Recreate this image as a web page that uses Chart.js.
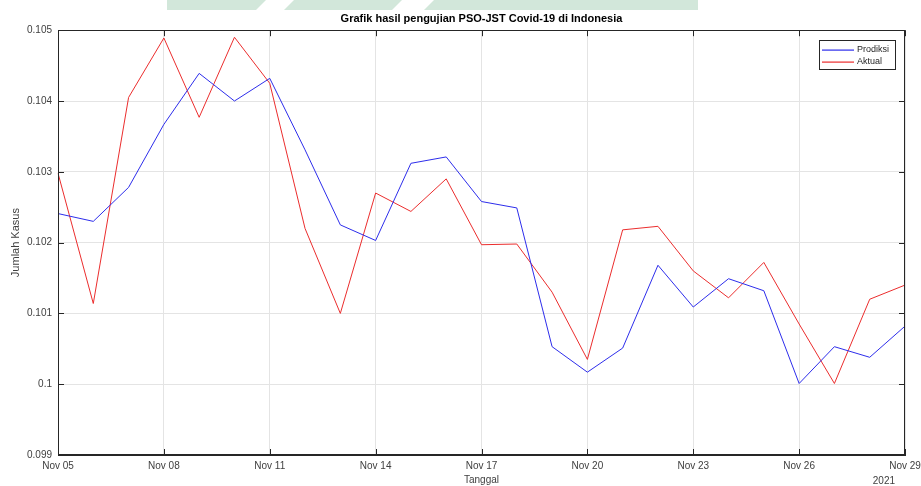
<!DOCTYPE html>
<html>
<head>
<meta charset="utf-8">
<script src="https://cdn.jsdelivr.net/npm/chart.js@4/dist/chart.umd.min.js"></script>
<style>
    html, body { margin: 0; padding: 0; background: #fff; }
</style>
</head>
<body>
<canvas id="grafik" width="921" height="486"></canvas>
<script>

    // Data

    var tanggal = [
        'Nov 05', 'Nov 06', 'Nov 07', 'Nov 08', 'Nov 09', 'Nov 10', 'Nov 11',
        'Nov 12', 'Nov 13', 'Nov 14', 'Nov 15', 'Nov 16', 'Nov 17', 'Nov 18',
        'Nov 19', 'Nov 20', 'Nov 21', 'Nov 22', 'Nov 23', 'Nov 24', 'Nov 25',
        'Nov 26', 'Nov 27', 'Nov 28', 'Nov 29'
    ];

    var prediksi = [
        0.10241, 0.10230, 0.10278, 0.10367, 0.10439, 0.10400, 0.10432,
        0.10331, 0.10225, 0.10203, 0.10312, 0.10321, 0.10258, 0.10249,
        0.10053, 0.10017, 0.10051, 0.10168, 0.10109, 0.10149, 0.10132,
        0.10001, 0.10053, 0.10038, 0.10082
    ];

    var aktual = [
        0.10298, 0.10114, 0.10405, 0.10489, 0.10377, 0.10490, 0.10425,
        0.10220, 0.10100, 0.10270, 0.10244, 0.10290, 0.10197, 0.10198,
        0.10130, 0.10035, 0.10218, 0.10223, 0.10160, 0.10122, 0.10172,
        0.10085, 0.10001, 0.10120, 0.10140
    ];

    var yMin = 0.099;
    var yMax = 0.105;
    var yStep = 0.001;
    var tahun = '2021';


    // Styles

    var FONT = '"Liberation Sans", Arial, Helvetica, sans-serif';
    var AXIS = '#262626';
    var GRID = '#e4e4e4';
    var BIRU = '#2d2deb';
    var MERAH = '#eb2d2d';
    var warna = [BIRU, MERAH];

    function isMajor(i) {
        return i % 3 === 0;
    }

    var bingkai = {
        id: 'bingkai',
        beforeDraw: function (chart) {
            var c = chart.ctx;
            c.save();
            c.fillStyle = '#fff';
            c.fillRect(0, 0, chart.width, chart.height);
            // faded watermark band at top
            c.fillStyle = '#d2e7da';
            var parts = [[167, 266], [284, 402], [424, 698]];
            parts.forEach(function (p) {
                c.beginPath();
                c.moveTo(p[0] + (p[0] === 167 ? 0 : 10), 0);
                c.lineTo(p[1], 0);
                c.lineTo(p[1] - (p[1] === 698 ? 0 : 10), 10);
                c.lineTo(p[0], 10);
                c.closePath();
                c.fill();
            });
            c.restore();
        },
        afterDraw: function (chart) {
            var c = chart.ctx;
            var a = chart.chartArea;
            var xs = chart.scales.x;
            var ys = chart.scales.y;
            c.save();

            // box
            c.strokeStyle = AXIS;
            c.lineWidth = 1;
            c.strokeRect(Math.round(a.left) + 0.5, Math.round(a.top) + 0.5,
                Math.round(a.right - a.left) - 1, Math.round(a.bottom - a.top) - 1);

            // inward ticks
            c.beginPath();
            xs.ticks.forEach(function (t, i) {
                if (!isMajor(i)) return;
                var x = Math.round(xs.getPixelForTick(i)) + 0.5;
                c.moveTo(x, a.bottom); c.lineTo(x, a.bottom - 6);
                c.moveTo(x, a.top); c.lineTo(x, a.top + 6);
            });
            ys.ticks.forEach(function (t, i) {
                var y = Math.round(ys.getPixelForTick(i)) + 0.5;
                c.moveTo(a.left, y); c.lineTo(a.left + 6, y);
                c.moveTo(a.right, y); c.lineTo(a.right - 6, y);
            });
            c.stroke();

            // legend
            var lx = 819, ly = 40, lw = 76, lh = 29;
            c.fillStyle = '#fff';
            c.fillRect(lx, ly, lw, lh);
            c.strokeStyle = AXIS;
            c.strokeRect(lx + 0.5, ly + 0.5, lw, lh);
            c.font = '9px ' + FONT;
            c.textBaseline = 'middle';
            c.textAlign = 'left';
            chart.data.datasets.forEach(function (ds, i) {
                var y = ly + 10 + i * 12;
                c.fillStyle = warna[i];
                c.fillRect(lx + 3, y - 0.5, 32, 1.2);
                c.fillStyle = AXIS;
                c.fillText(ds.label, lx + 38, y);
            });

            // year under the last date
            c.font = '10px ' + FONT;
            c.fillStyle = '#404040';
            c.textAlign = 'right';
            c.fillText(tahun, a.right - 10, 481);
            c.restore();
        }
    };


    // Chart

    var grafik = new Chart(document.getElementById('grafik'), {
        type: 'line',
        data: {
            labels: tanggal,
            datasets: [{
                label: 'Prodiksi',
                data: prediksi,
                borderColor: BIRU,
                borderWidth: 1,
                pointRadius: 0,
                tension: 0
            }, {
                label: 'Aktual',
                data: aktual,
                borderColor: MERAH,
                borderWidth: 1,
                pointRadius: 0,
                tension: 0
            }]
        },
        options: {
            responsive: false,
            animation: false,
            devicePixelRatio: 1,
            layout: {
                padding: { left: 0, right: 16, top: 0, bottom: 0 }
            },
            plugins: {
                legend: { display: false },
                tooltip: { enabled: false },
                title: {
                    display: true,
                    fullSize: false,
                    text: 'Grafik hasil pengujian PSO-JST Covid-19 di Indonesia',
                    color: '#000',
                    font: { family: FONT, size: 11, weight: 'bold' },
                    padding: { top: 12, bottom: 5 }
                }
            },
            scales: {
                x: {
                    type: 'category',
                    offset: false,
                    afterFit: function (s) {
                        s.height = 31;
                        s.paddingRight = 0;
                        s.paddingLeft = 0;
                    },
                    border: { color: AXIS },
                    grid: {
                        drawTicks: false,
                        color: function (ctx) {
                            return isMajor(ctx.index) ? GRID : 'rgba(0,0,0,0)';
                        }
                    },
                    ticks: {
                        autoSkip: false,
                        maxRotation: 0,
                        padding: 5,
                        color: '#404040',
                        font: { family: FONT, size: 10 },
                        callback: function (v, i) {
                            return isMajor(i) ? this.getLabelForValue(v) : '';
                        }
                    },
                    title: {
                        display: true,
                        text: 'Tanggal',
                        color: '#404040',
                        font: { family: FONT, size: 10 },
                        padding: { top: 0, bottom: 0 }
                    }
                },
                y: {
                    min: yMin,
                    max: yMax,
                    afterFit: function (s) { s.width = 58; },
                    border: { color: AXIS },
                    grid: { drawTicks: false, color: GRID },
                    ticks: {
                        stepSize: yStep,
                        padding: 6,
                        color: '#404040',
                        font: { family: FONT, size: 10 },
                        callback: function (v) {
                            return String(parseFloat(v.toFixed(3)));
                        }
                    },
                    title: {
                        display: true,
                        text: 'Jumlah Kasus',
                        color: '#404040',
                        font: { family: FONT, size: 11 },
                        padding: { top: 9, bottom: 0 }
                    }
                }
            }
        },
        plugins: [bingkai]
    });

</script>
</body>
</html>
